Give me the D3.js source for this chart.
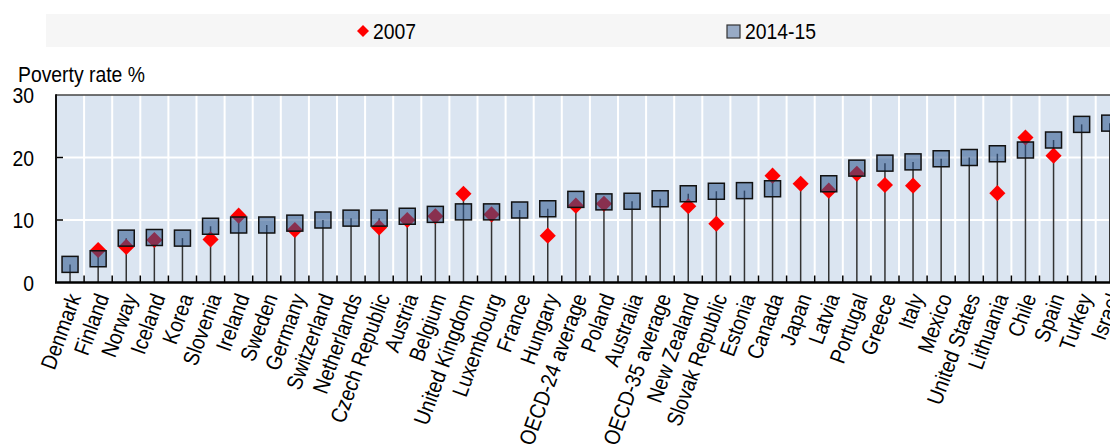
<!DOCTYPE html>
<html><head><meta charset="utf-8">
<script src="https://cdn.jsdelivr.net/npm/d3@7"></script>
<style>
html,body{margin:0;padding:0;background:#fff;overflow:hidden;width:1110px;height:448px}
text{font-family:"Liberation Sans",Arial,sans-serif;fill:#000}
</style></head><body>
<svg id="c" width="1130" height="448"></svg>
<script>
const categories = ["Denmark","Finland","Norway","Iceland","Korea","Slovenia","Ireland","Sweden","Germany","Switzerland","Netherlands","Czech Republic","Austria","Belgium","United Kingdom","Luxembourg","France","Hungary","OECD-24 average","Poland","Australia","OECD-35 average","New Zealand","Slovak Republic","Estonia","Canada","Japan","Latvia","Portugal","Greece","Italy","Mexico","United States","Lithuania","Chile","Spain","Turkey","Israel"];
const values2007 = [null,5.2,5.7,6.8,null,6.9,10.7,null,8.4,null,null,8.8,10.0,10.6,14.2,10.9,null,7.5,12.3,12.6,null,null,12.2,9.4,null,17.1,15.8,14.7,17.4,15.6,15.5,null,null,14.3,23.2,20.3,null,null];
const values2014 = [2.9,3.8,7.1,7.2,7.1,9.0,9.2,9.2,9.5,10.0,10.3,10.3,10.6,10.9,11.3,11.3,11.6,11.8,13.3,12.9,13.0,13.4,14.2,14.6,14.7,15.0,null,15.8,18.3,19.1,19.3,19.8,20.0,20.6,21.2,22.8,25.3,25.5];
const yTicks = [0,10,20,30];
const seriesNames = ["2007","2014-15"];

const FS = "22px", SX = 0.88;
const svg = d3.select("#c");
const x = d3.scaleBand().domain(categories).range([56, 1123.8]).padding(0);
const y = d3.scaleLinear().domain([0,30]).range([282.5, 95]);

function ctext(g, tx, ty, str, anchor){
  return g.append("text").attr("transform",`translate(${tx},${ty}) scale(${SX},1)`)
    .attr("font-size",FS).attr("text-anchor",anchor||"start").text(str);
}

// legend band
svg.append("rect").attr("x",46).attr("y",14).attr("width",1100).attr("height",33).attr("fill","#f6f6f6");
const sqFill = "rgba(45,86,140,0.56)";
svg.append("path").attr("d", d3.symbol(d3.symbolSquare, 72)()).attr("transform","translate(363,31) rotate(45)").attr("fill","#ff0000");
ctext(svg, 373, 39, seriesNames[0]);
svg.append("rect").attr("x",727).attr("y",25).attr("width",13).attr("height",13).attr("fill","#98abc6").attr("stroke","#333").attr("stroke-width",1.2);
ctext(svg, 745, 39, seriesNames[1]);

// title
ctext(svg, 18, 82, "Poverty rate %");

// plot background
svg.append("rect").attr("x",x.range()[0]).attr("y",y(30)).attr("width",x.range()[1]-x.range()[0]).attr("height",y(0)-y(30)).attr("fill","#dbe5f1");

// vertical gridlines at category boundaries
const bounds = categories.slice(1).map(c => x(c));
svg.append("g").selectAll("line").data(bounds).join("line")
  .attr("x1",d=>d).attr("x2",d=>d).attr("y1",y(30)).attr("y2",y(0))
  .attr("stroke","#fff").attr("stroke-width",2);
// horizontal gridlines
svg.append("g").selectAll("line").data([10,20]).join("line")
  .attr("x1",x.range()[0]).attr("x2",x.range()[1]).attr("y1",d=>y(d)).attr("y2",d=>y(d))
  .attr("stroke","#fff").attr("stroke-width",2);

// bottom ticks (inward)
svg.append("g").selectAll("line").data(bounds).join("line")
  .attr("x1",d=>d).attr("x2",d=>d).attr("y1",y(0)).attr("y2",y(0)-7)
  .attr("stroke","#000").attr("stroke-width",1.5);

// y axis
const yAxis = svg.append("g").attr("transform",`translate(${x.range()[0]},0)`)
  .call(d3.axisLeft(y).tickValues(yTicks).tickSize(0).tickPadding(22));
yAxis.select(".domain").remove();
yAxis.selectAll("text").attr("font-size",FS).attr("font-family","Liberation Sans, Arial, sans-serif").attr("fill","#000")
  .attr("x",0).attr("dy","0.36em")
  .attr("transform",`translate(-22,0) scale(${SX},1)`);
svg.append("g").selectAll("line").data([10,20]).join("line")
  .attr("x1",x.range()[0]).attr("x2",x.range()[0]+7).attr("y1",d=>y(d)).attr("y2",d=>y(d))
  .attr("stroke","#000").attr("stroke-width",1.5);

// frame
svg.append("line").attr("x1",x.range()[0]).attr("x2",x.range()[1]).attr("y1",y(30)).attr("y2",y(30)).attr("stroke","#444").attr("stroke-width",1.5);
svg.append("line").attr("x1",x.range()[0]).attr("x2",x.range()[0]).attr("y1",y(30)-0.75).attr("y2",y(0)).attr("stroke","#111").attr("stroke-width",2);

// stems
const data = categories.map((c,i)=>({c, a:values2007[i], b:values2014[i]}));
const cx = d => x(d.c) + x.bandwidth()/2;
svg.append("g").selectAll("line").data(data).join("line")
  .attr("x1",cx).attr("x2",cx).attr("y1",y(0))
  .attr("y2",d=>y(Math.max(d.a??0, d.b??0)))
  .attr("stroke","#333").attr("stroke-width",1.5);

// bottom axis line
svg.append("line").attr("x1",x.range()[0]-1).attr("x2",x.range()[1]).attr("y1",y(0)).attr("y2",y(0)).attr("stroke","#000").attr("stroke-width",2.5);

// diamonds
svg.append("g").selectAll("path").data(data.filter(d=>d.a!=null)).join("path")
  .attr("d", d3.symbol(d3.symbolSquare, 130)())
  .attr("transform", d=>`translate(${cx(d)},${y(d.a)}) rotate(45)`)
  .attr("fill","#ff0000");

// squares
svg.append("g").selectAll("rect").data(data.filter(d=>d.b!=null)).join("rect")
  .attr("x", d=>cx(d)-8).attr("y", d=>y(d.b)-8).attr("width",16).attr("height",16)
  .attr("fill",sqFill).attr("stroke","#111").attr("stroke-width",1.5);

// x labels
const xAxis = svg.append("g").attr("transform",`translate(0,${y(0)})`)
  .call(d3.axisBottom(x).tickSize(0));
xAxis.select(".domain").remove();
xAxis.selectAll("text")
  .attr("font-size",FS).attr("font-family","Liberation Sans, Arial, sans-serif").attr("fill","#000")
  .attr("text-anchor","end").attr("x",0).attr("y",0).attr("dy","0.35em")
  .attr("transform",`translate(4,12) rotate(-70) scale(${SX},1)`);
</script></body></html>
